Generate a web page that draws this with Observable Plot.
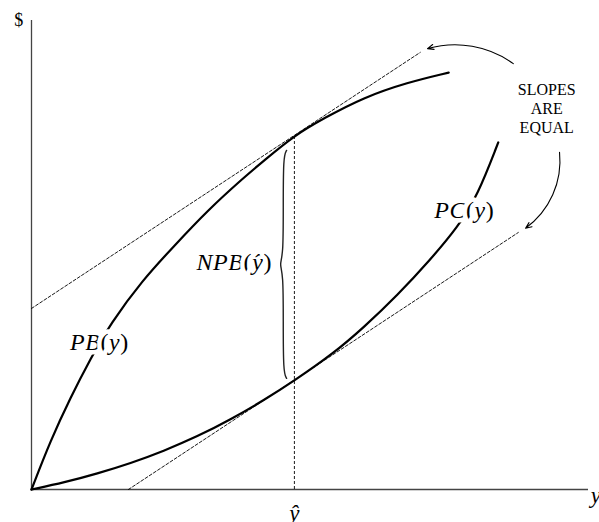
<!DOCTYPE html>
<html>
<head>
<meta charset="utf-8">
<script src="https://cdn.jsdelivr.net/npm/d3@7"></script>
<script src="https://cdn.jsdelivr.net/npm/@observablehq/plot@0.6"></script>
<style>
  html, body { margin: 0; padding: 0; background: #fff; }
  #chart svg { display: block; overflow: visible; }
  #chart svg text, #chart svg tspan { font-family: "Times New Roman", "Liberation Serif", Tinos, "DejaVu Serif", serif !important; }
  #chart svg text.mathlabel { letter-spacing: 0.6px; }
</style>
</head>
<body>
<div id="chart"></div>
<script>
// ---- values (abstract units: x 0..100, $ 0..100) ----
const pbX = [0, 3.4, 7.0, 10.6, 14.2, 19.9, 25.5, 31.6, 38.1, 41.7, 47.2, 52.4, 59.6, 67.5, 74.9];
const pbY = [0, 10.4, 19.6, 27.9, 35.4, 44.6, 51.8, 59.5, 66.5, 70.1, 75.5, 79.1, 83.6, 86.8, 88.9];

const pcX = [0, 5.9, 11.8, 17.8, 23.7, 29.8, 35.7, 41.7, 47.2, 54.2, 59.6, 65.7, 71.6, 76.5, 80.1, 83.8];
const pcY = [0, 1.5, 3.4, 5.6, 8.2, 11.3, 14.9, 19.0, 23.2, 29.0, 34.5, 41.4, 49.0, 55.9, 62.7, 74.0];

const yHat = 47.2;            // output level where slopes are equal
const pbAtYHat = 75.5;        // PB(ŷ)
const pcAtYHat = 23.2;        // PC(ŷ)

// tangent lines (dashed), endpoints
const tanUpperX = [0, 69.8];
const tanUpperY = [38.6, 93.2];
const tanLowerX = [17.4, 87.4];
const tanLowerY = [0, 54.8];

// curly brace next to the NPB gap
const braceX = [45.8, 45.2, 45.2, 45.2, 44.5, 45.2, 45.2, 45.2, 45.8];
const braceY = [72.3, 71.0, 60.0, 49.9, 48.0, 46.1, 36.0, 25.0, 23.7];

// annotation arrows: [x1, y1, x2, y2, bend]
const arrowUpper = [86.5, 90.8, 71.1, 94.0, -26];
const arrowLower = [94.8, 71.9, 88.7, 55.7, 30];

// labels
const curveLabels = ["PB(y)", "NPB(ŷ)", "PC(y)"];
const curveLabelX = [12.2, 36.4, 77.7];
const curveLabelY = [31.3, 48.4, 59.5];
const noteLines = ["SLOPES", "ARE", "EQUAL"];
const noteX = 92.5;
const noteY = [85.2, 81.1, 77.1];
const axisLabelY = "$";
const axisLabelX = "y";
const tickLabel = "ŷ";

// ---- build tables ----
const pb = pbX.map((x, i) => ({x, y: pbY[i]}));
const pc = pcX.map((x, i) => ({x, y: pcY[i]}));
const tanU = tanUpperX.map((x, i) => ({x, y: tanUpperY[i]}));
const tanL = tanLowerX.map((x, i) => ({x, y: tanLowerY[i]}));
const brace = braceX.map((x, i) => ({x, y: braceY[i]}));
const labels = curveLabels.map((t, i) => ({t, x: curveLabelX[i], y: curveLabelY[i]}));
const notes = noteLines.map((t, i) => ({t, x: noteX, y: noteY[i]}));
const arrows = [arrowUpper, arrowLower].map(([x1, y1, x2, y2, bend]) => ({x1, y1, x2, y2, bend}));

const serif = "Times New Roman, Liberation Serif, serif";

const plot = Plot.plot({
  width: 599,
  height: 522,
  marginLeft: 31,
  marginRight: 11,
  marginTop: 20,
  marginBottom: 33,
  x: {domain: [0, 100], axis: null},
  y: {domain: [0, 100], axis: null},
  style: {background: "#fff", color: "#000"},
  marks: [
    // axes
    Plot.ruleX([0], {y1: 0, y2: 100, stroke: "#444", strokeWidth: 1.3}),
    Plot.ruleY([0], {x1: 0, x2: 100, stroke: "#444", strokeWidth: 1.3}),
    // dashed tangent lines and ŷ guide
    Plot.line(tanU, {x: "x", y: "y", stroke: "#000", strokeWidth: 0.9, strokeDasharray: "3,2"}),
    Plot.line(tanL, {x: "x", y: "y", stroke: "#000", strokeWidth: 0.9, strokeDasharray: "3,2"}),
    Plot.ruleX([yHat], {y1: 0, y2: pbAtYHat, stroke: "#000", strokeWidth: 0.9, strokeDasharray: "3,2"}),
    // curves
    Plot.line(pb, {x: "x", y: "y", curve: "basis", stroke: "#000", strokeWidth: 2.2}),
    Plot.line(pc, {x: "x", y: "y", curve: "basis", stroke: "#000", strokeWidth: 2.2}),
    // brace
    Plot.line(brace, {x: "x", y: "y", curve: "basis", stroke: "#222", strokeWidth: 1.4}),
    // arrows
    ...arrows.map(a => Plot.arrow([a], {x1: "x1", y1: "y1", x2: "x2", y2: "y2", bend: a.bend,
      stroke: "#000", strokeWidth: 1.1, headLength: 9, headAngle: 45})),
    // curve labels with white halo (breaks the curves)
    Plot.text(labels, {x: "x", y: "y", text: "t", fontSize: 24, fontStyle: "italic", fontFamily: serif,
      stroke: "#fff", strokeWidth: 9, paintOrder: "stroke", fill: "#000"}),
    // note
    Plot.text(notes, {x: "x", y: "y", text: "t", fontSize: 16, fontFamily: serif, fill: "#000"}),
    // axis labels
    Plot.text([axisLabelY], {x: -2.3, y: 100, text: d => d, fontSize: 18, fontFamily: serif, fill: "#000"}),
    Plot.text([axisLabelX], {x: 100.4, y: -1.3, text: d => d, fontSize: 23, fontStyle: "italic", fontFamily: serif, textAnchor: "start", fill: "#000"}),
    Plot.text([tickLabel], {x: yHat, y: -5.1, text: d => d, fontSize: 23, fontStyle: "italic", fontFamily: serif, fill: "#000"})
  ]
});

// make parentheses upright, letters italic (as in typeset math)
plot.querySelectorAll("text").forEach(t => {
  const s = t.textContent;
  const m = s.match(/^(.+)\((.+)\)$/);
  if (m) {
    t.textContent = "";
    t.classList.add("mathlabel");
    const ns = "http://www.w3.org/2000/svg";
    const parts = [[m[1], "italic"], ["(", "normal"], [m[2], "italic"], [")", "normal"]];
    for (const [txt, st] of parts) {
      const sp = document.createElementNS(ns, "tspan");
      sp.setAttribute("font-style", st);
      sp.textContent = txt;
      t.appendChild(sp);
    }
  }
});

document.getElementById("chart").appendChild(plot);
</script>
</body>
</html>
